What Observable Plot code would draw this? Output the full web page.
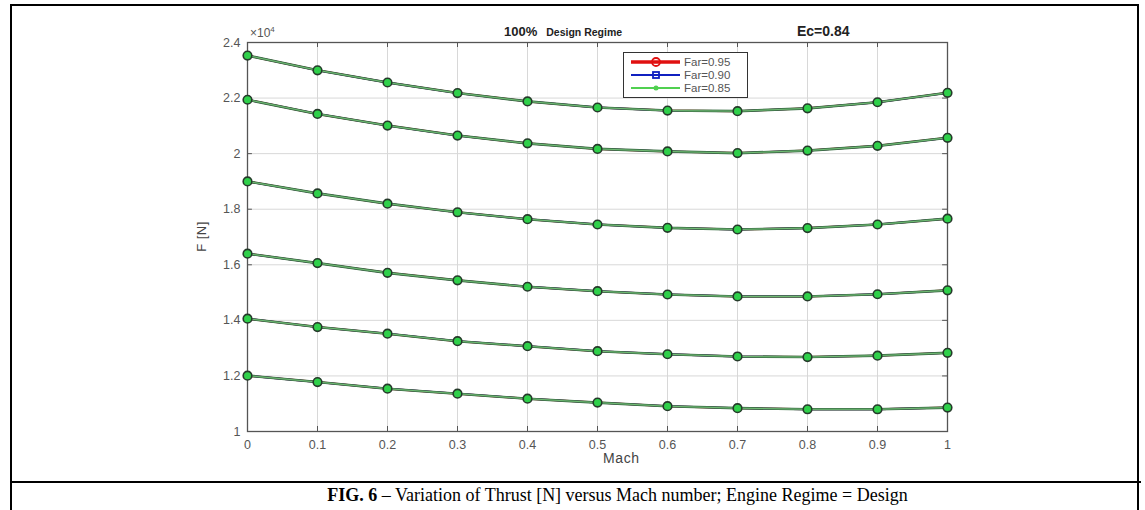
<!DOCTYPE html>
<html>
<head>
<meta charset="utf-8">
<script src="https://cdn.jsdelivr.net/npm/d3@7"></script>
<script src="https://cdn.jsdelivr.net/npm/@observablehq/plot@0.6"></script>
<style>
  html, body { margin: 0; padding: 0; background: #fff; }
  #wrap { position: relative; width: 1145px; height: 510px; overflow: hidden; font-family: "Liberation Sans", Arial, sans-serif; }
  #chart { position: absolute; left: 0; top: 0; }
  .frame { position: absolute; left: 10px; top: 4px; width: 1129px; height: 510px; border: 2px solid #000; box-sizing: border-box; }
  .sep { position: absolute; left: 10px; top: 481px; width: 1131px; height: 2px; background: #000; }
  .t { position: absolute; white-space: nowrap; color: #222; }
</style>
</head>
<body>
<div id="wrap">
  <div id="chart"></div>
  <div class="frame"></div>
  <div class="sep"></div>
  <div class="t" style="left:504px; top:24px; font-weight:bold; font-size:13px;">100%<span style="font-size:10.5px; margin-left:9px;">Design Regime</span></div>
  <div class="t" style="left:797px; top:23px; font-weight:bold; font-size:14px;">Ec=0.84</div>
  <div class="t" style="left:250px; top:25px; font-size:12px; color:#555;">×10<sup style="font-size:8px;">4</sup></div>
  <div class="t" style="left:603px; top:450px; font-size:14px; letter-spacing:0.6px; color:#444;">Mach</div>
  <div class="t" style="left:186px; top:229px; font-size:13px; letter-spacing:0.5px; color:#444; transform: rotate(-90deg); transform-origin: center;">F [N]</div>
  <div class="t" style="left:0; width:1145px; top:485px; text-align:center; padding-left:90px; box-sizing:border-box; font-family:'Liberation Serif','Times New Roman',serif; font-size:18px; color:#000;"><b>FIG. 6</b> – Variation of Thrust [N] versus Mach number; Engine Regime = Design</div>
  <svg id="legend" style="position:absolute; left:623px; top:52px;" width="125" height="46"></svg>
</div>
<script>
// ---- data (thrust in units of 1e4 N) ----
const mach = [0, 0.1, 0.2, 0.3, 0.4, 0.5, 0.6, 0.7, 0.8, 0.9, 1.0];
const curve1 = [2.353, 2.300, 2.256, 2.218, 2.188, 2.166, 2.155, 2.153, 2.163, 2.185, 2.219];
const curve2 = [2.194, 2.143, 2.101, 2.065, 2.037, 2.017, 2.008, 2.002, 2.011, 2.028, 2.057];
const curve3 = [1.900, 1.857, 1.820, 1.789, 1.764, 1.745, 1.733, 1.727, 1.732, 1.745, 1.766];
const curve4 = [1.640, 1.606, 1.571, 1.544, 1.521, 1.505, 1.493, 1.486, 1.486, 1.494, 1.508];
const curve5 = [1.406, 1.376, 1.352, 1.325, 1.307, 1.289, 1.278, 1.270, 1.268, 1.273, 1.283];
const curve6 = [1.201, 1.178, 1.154, 1.136, 1.118, 1.104, 1.091, 1.084, 1.080, 1.080, 1.086];
const farLabels = ["Far=0.95", "Far=0.90", "Far=0.85"];
const farColors = ["#e01010", "#1020c0", "#50d050"];
const xTicks = [0, 0.1, 0.2, 0.3, 0.4, 0.5, 0.6, 0.7, 0.8, 0.9, 1];
const yTicks = [1, 1.2, 1.4, 1.6, 1.8, 2, 2.2, 2.4];

const curves = [curve1, curve2, curve3, curve4, curve5, curve6];
const rows = [];
farLabels.forEach((far) => {
  curves.forEach((c, ci) => {
    c.forEach((v, i) => rows.push({far, curve: ci, mach: mach[i], F: v}));
  });
});
const bySeries = (far) => rows.filter(d => d.far === far);

const fmt = d => String(+d.toFixed(1));

const chart = Plot.plot({
  width: 1145,
  height: 482,
  marginLeft: 247,
  marginRight: 198,
  marginTop: 42,
  marginBottom: 51,
  style: {fontFamily: "'Liberation Sans', Arial, sans-serif", background: "transparent"},
  x: {domain: [0, 1]},
  y: {domain: [1, 2.4]},
  marks: [
    Plot.gridX(xTicks, {stroke: "#d8d8d8", strokeOpacity: 1}),
    Plot.gridY(yTicks, {stroke: "#d8d8d8", strokeOpacity: 1}),
    // inward ticks
    Plot.ruleX(xTicks, {x: d => d, y1: 1, y2: 1 + 0.018, stroke: "#555"}),
    Plot.ruleX(xTicks, {x: d => d, y1: 2.4, y2: 2.4 - 0.018, stroke: "#555"}),
    Plot.ruleY(yTicks, {y: d => d, x1: 0, x2: 0.007, stroke: "#555"}),
    Plot.ruleY(yTicks, {y: d => d, x1: 1, x2: 1 - 0.007, stroke: "#555"}),
    Plot.axisX(xTicks, {tickSize: 0, tickPadding: 9, fontSize: 12.5, fill: "#555", tickFormat: fmt, label: null}),
    Plot.axisY(yTicks, {tickSize: 0, tickPadding: 7, fontSize: 12.5, fill: "#555", tickFormat: fmt, label: null}),
    Plot.frame({stroke: "#555", strokeWidth: 1.3}),
    // Far = 0.95 (red, circles) - hidden underneath
    Plot.line(bySeries(farLabels[0]), {x: "mach", y: "F", z: "curve", stroke: farColors[0], strokeWidth: 2}),
    // Far = 0.90 (blue, squares)
    Plot.line(bySeries(farLabels[1]), {x: "mach", y: "F", z: "curve", stroke: farColors[1], strokeWidth: 1.8}),
    Plot.dot(bySeries(farLabels[0]), {x: "mach", y: "F", r: 3.4, stroke: farColors[0], strokeWidth: 1, fill: "none"}),
    Plot.dot(bySeries(farLabels[1]), {x: "mach", y: "F", symbol: "square", r: 2.8, stroke: farColors[1], strokeWidth: 1, fill: "none"}),
    // Far = 0.85 (green) on top
    Plot.line(bySeries(farLabels[2]), {x: "mach", y: "F", z: "curve", stroke: "#3b6e45", strokeWidth: 2.6}),
    Plot.line(bySeries(farLabels[2]), {x: "mach", y: "F", z: "curve", stroke: "#79c77c", strokeWidth: 0.9}),
    Plot.dot(bySeries(farLabels[2]), {x: "mach", y: "F", r: 4.3, fill: "#2fd04a", stroke: "#253a2a", strokeWidth: 1.6})
  ]
});
document.getElementById("chart").appendChild(chart);

// legend
const lg = d3.select("#legend");
lg.append("rect").attr("x", 0.5).attr("y", 0.5).attr("width", 124).attr("height", 45)
  .attr("fill", "#fff").attr("stroke", "#333").attr("stroke-width", 1);
const ly = [10, 23, 36];
farLabels.forEach((lab, i) => {
  const g = lg.append("g").attr("transform", `translate(0,${ly[i]})`);
  g.append("line").attr("x1", 8).attr("x2", 57).attr("y1", 0).attr("y2", 0)
    .attr("stroke", farColors[i]).attr("stroke-width", i === 0 ? 3.5 : 2);
  if (i === 0) g.append("circle").attr("cx", 33).attr("cy", 0).attr("r", 4).attr("fill", "none").attr("stroke", farColors[i]).attr("stroke-width", 1.8);
  if (i === 1) g.append("rect").attr("x", 30).attr("y", -3).attr("width", 6).attr("height", 6).attr("fill", "none").attr("stroke", farColors[i]).attr("stroke-width", 1.8);
  if (i === 2) g.append("circle").attr("cx", 33).attr("cy", 0).attr("r", 2.5).attr("fill", farColors[i]);
  g.append("text").attr("x", 61).attr("y", 4).attr("font-size", 11.5).attr("fill", "#555")
    .attr("font-family", "'Liberation Sans', Arial, sans-serif").text(lab);
});
</script>
</body>
</html>
